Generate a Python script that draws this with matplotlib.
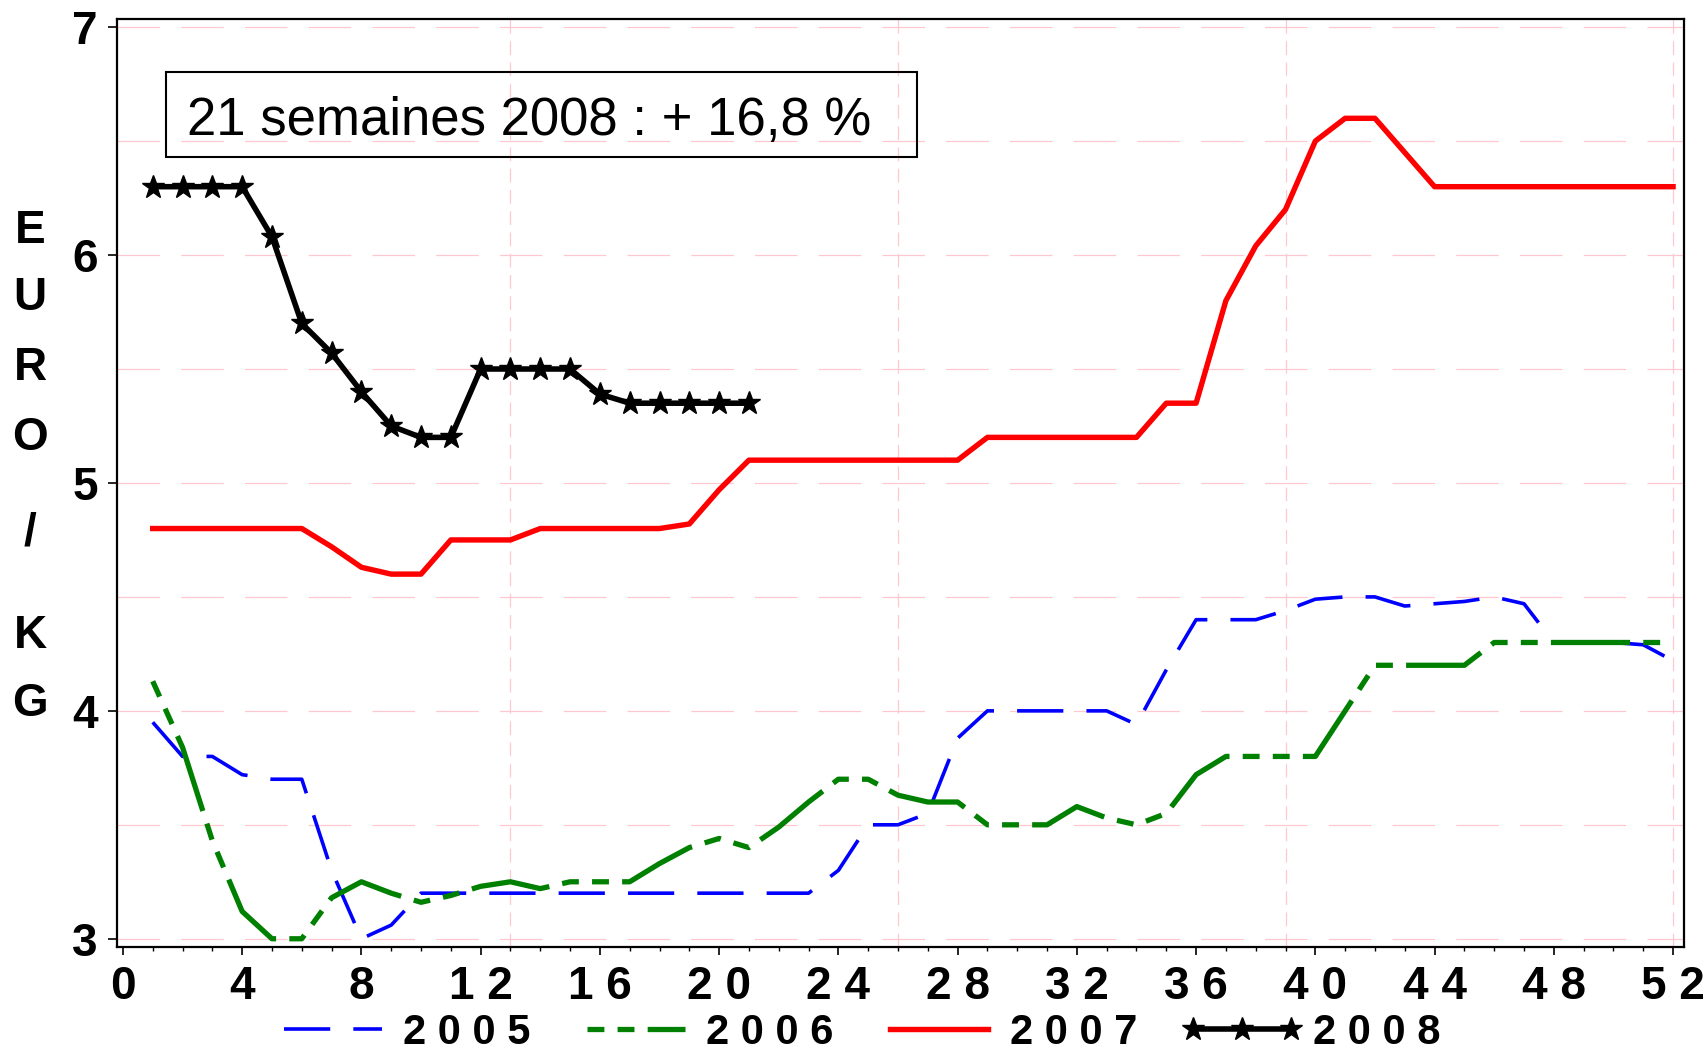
import matplotlib
matplotlib.use('Agg')
import matplotlib.pyplot as plt
from matplotlib.lines import Line2D
from matplotlib.patches import Rectangle

plt.rcParams['font.family'] = ['Liberation Sans', 'DejaVu Sans']

# ---------------- data ----------------
weeks_full = list(range(1, 53))
weeks_2008 = list(range(1, 22))

v2005 = [3.95, 3.8, 3.8, 3.72, 3.7, 3.7, 3.3, 3.0, 3.06, 3.2,
         3.2, 3.2, 3.2, 3.2, 3.2, 3.2, 3.2, 3.2, 3.2, 3.2, 3.2, 3.2, 3.2,
         3.3, 3.5, 3.5, 3.55, 3.88,
         4.0, 4.0, 4.0, 4.0, 4.0, 3.94, 4.18,
         4.4, 4.4, 4.4, 4.44, 4.49, 4.5, 4.5, 4.46, 4.47, 4.48, 4.5, 4.47,
         4.3, 4.3, 4.3, 4.29, 4.22]

v2006 = [4.13, 3.84, 3.43, 3.12, 3.0, 3.0, 3.18, 3.25, 3.2, 3.16,
         3.19, 3.23, 3.25, 3.22, 3.25, 3.25, 3.25, 3.33, 3.4, 3.44,
         3.4, 3.49, 3.6, 3.7, 3.7, 3.63, 3.6, 3.6, 3.5, 3.5,
         3.5, 3.58, 3.53, 3.5, 3.55, 3.72, 3.8, 3.8, 3.8, 3.8,
         4.0, 4.2, 4.2, 4.2, 4.2, 4.3, 4.3, 4.3, 4.3, 4.3, 4.3, 4.3]

v2007 = [4.8, 4.8, 4.8, 4.8, 4.8, 4.8, 4.72, 4.63, 4.6, 4.6,
         4.75, 4.75, 4.75, 4.8, 4.8, 4.8, 4.8, 4.8, 4.82, 4.97,
         5.1, 5.1, 5.1, 5.1, 5.1, 5.1, 5.1, 5.1,
         5.2, 5.2, 5.2, 5.2, 5.2, 5.2, 5.35, 5.35,
         5.8, 6.04, 6.2, 6.5, 6.6, 6.6, 6.45,
         6.3, 6.3, 6.3, 6.3, 6.3, 6.3, 6.3, 6.3, 6.3]

v2008 = [6.3, 6.3, 6.3, 6.3, 6.08, 5.7, 5.57, 5.4, 5.25, 5.2, 5.2,
         5.5, 5.5, 5.5, 5.5, 5.39, 5.35, 5.35, 5.35, 5.35, 5.35]

legend_labels = ['2 0 0 5', '2 0 0 6', '2 0 0 7', '2 0 0 8']
xtick_values = list(range(0, 53, 4))
xtick_labels = ['0', '4', '8', '1 2', '1 6', '2 0', '2 4', '2 8',
                '3 2', '3 6', '4 0', '4 4', '4 8', '5 2']
ytick_values = [3, 4, 5, 6, 7]
ytick_labels = ['3', '4', '5', '6', '7']
hgrid_values = [3.0, 3.5, 4.0, 4.5, 5.0, 5.5, 6.0, 6.5, 7.0]
vgrid_values = [13, 26, 39, 52]
ylabel_letters = ['E', 'U', 'R', 'O', '/', 'K', 'G']
annotation = '21 semaines 2008 : + 16,8 %'

# ---------------- figure ----------------
fig = plt.figure(figsize=(17.08, 10.53), dpi=100)
ax = fig.add_axes([0.0683, 0.1007, 0.9177, 0.8813])
ax.set_xlim(-0.21, 52.37)
ax.set_ylim(2.964, 7.036)

grid_color = '#ffc8d0'
for yv in hgrid_values:
    ax.axhline(yv, color=grid_color, lw=0.9, linestyle=(0, (34, 17)), zorder=1)
for xv in vgrid_values:
    ax.axvline(xv, color=grid_color, lw=0.9, linestyle=(0, (11, 6)), zorder=1)

blue_lw, green_lw, red_lw, black_lw = 2.6, 3.8, 3.9, 4.0
blue_pat = (0, (12.8, 6.4))
green_pat = (17.5, (15, 2.5, 3.2, 2.5, 3.2, 2.5))

ax.plot(weeks_full, v2005, color='#0000ff', lw=blue_lw, linestyle=blue_pat, zorder=3)
ax.plot(weeks_full, v2006, color='#008000', lw=green_lw, linestyle=green_pat, zorder=3)
ax.plot(weeks_full, v2007, color='#ff0000', lw=red_lw, zorder=3)
ax.plot(weeks_2008, v2008, color='black', lw=black_lw, marker='*',
        markersize=17, zorder=4)

ax.set_xticks(xtick_values)
ax.set_xticklabels(xtick_labels)
ax.set_xticks(list(range(0, 53)), minor=True)
ax.set_yticks(ytick_values)
ax.set_yticklabels(ytick_labels)

for lab in ax.get_xticklabels() + ax.get_yticklabels():
    lab.set_fontsize(33)
    lab.set_fontweight('bold')

ax.tick_params(axis='x', which='major', direction='out', length=6, width=1.2, pad=7)
ax.tick_params(axis='x', which='minor', direction='out', length=3, width=1.0)
ax.tick_params(axis='y', which='major', direction='out', length=6.5, width=1.2, pad=7)
ax.tick_params(axis='y', which='minor', left=False)

for sp in ax.spines.values():
    sp.set_linewidth(1.6)
    sp.set_color('black')

# annotation box
fig.patches.append(Rectangle((0.0970, 0.8512), 0.4399, 0.0804,
                             transform=fig.transFigure, fill=False,
                             edgecolor='black', lw=1.5, zorder=5))
fig.text(0.1093, 0.8718, annotation, fontsize=38, va='baseline', ha='left')

# vertical stacked y label
ylab_y = [231, 298, 368, 438, 534, 636, 704]
for ch, yp in zip(ylabel_letters, ylab_y):
    fig.text(0.0176, 1 - yp / 1053, ch, fontsize=33, fontweight='bold',
             ha='center', va='center')

# legend
handles = [Line2D([], [], color='#0000ff', lw=blue_lw, linestyle=blue_pat),
           Line2D([], [], color='#008000', lw=green_lw, linestyle=green_pat),
           Line2D([], [], color='#ff0000', lw=red_lw),
           Line2D([], [], color='black', lw=black_lw, marker='*', markersize=17)]
fig.legend(handles, legend_labels, loc='center', bbox_to_anchor=(0.501, 0.019),
           ncol=4, frameon=False, prop={'size': 30, 'weight': 'bold'},
           handlelength=2.95, handletextpad=0.22, columnspacing=1.05,
           numpoints=3, borderpad=0, borderaxespad=0)

fig.savefig('out.png', dpi=100)
